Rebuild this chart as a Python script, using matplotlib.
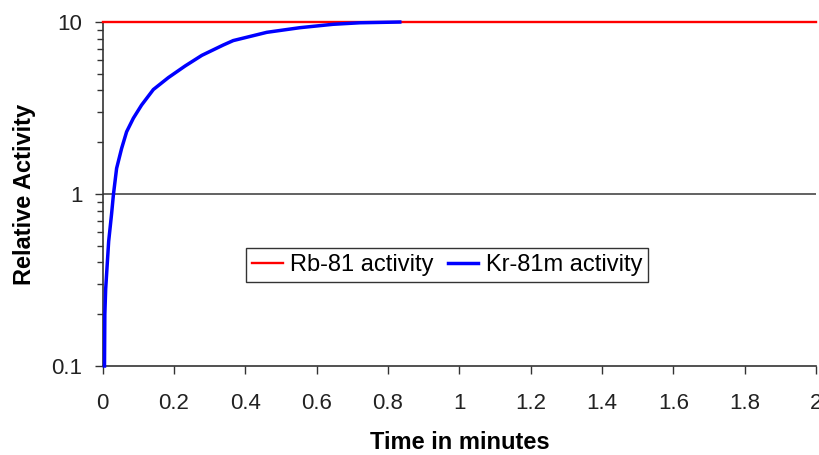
import matplotlib.pyplot as plt
from matplotlib.ticker import FixedLocator, NullFormatter

plt.rcParams['font.family'] = ['Liberation Sans', 'DejaVu Sans']

# Rb-81 parent activity (constant)
rb_time = [0.0, 2.0]
rb_activity = [10.0, 10.0]

# Kr-81m daughter activity
kr_time = [0.005, 0.006, 0.0083, 0.0167, 0.025, 0.030, 0.039, 0.053, 0.067,
           0.086, 0.109, 0.142, 0.184, 0.231, 0.278, 0.338, 0.366, 0.46,
           0.553, 0.646, 0.721, 0.833]
kr_activity = [0.10, 0.20, 0.28, 0.53, 0.77, 0.99, 1.41, 1.84, 2.30,
               2.76, 3.29, 4.05, 4.75, 5.55, 6.40, 7.35, 7.80, 8.71,
               9.27, 9.70, 9.90, 10.0]

x_ticks = [0, 0.2, 0.4, 0.6, 0.8, 1, 1.2, 1.4, 1.6, 1.8, 2]
x_labels = ['0', '0.2', '0.4', '0.6', '0.8', '1', '1.2', '1.4', '1.6', '1.8', '2']
y_ticks = [0.1, 1, 10]
y_labels = ['0.1', '1', '10']

fig = plt.figure(figsize=(8.19, 4.55), dpi=100)
ax = fig.add_axes([0.1254, 0.1956, 0.8709, 0.756])

ax.set_yscale('log')
ax.axhline(1, color='#555555', lw=1.3, zorder=1)
ax.plot(rb_time, rb_activity, color='#ff0000', lw=1.7, label='Rb-81 activity',
        clip_on=False, zorder=3)
ax.plot(kr_time, kr_activity, color='#0000ff', lw=2.5, label='Kr-81m activity',
        clip_on=False, zorder=4)

ax.set_xlim(0, 2)
ax.set_ylim(0.1, 10)
ax.set_xticks(x_ticks)
ax.set_xticklabels(x_labels)
ax.yaxis.set_major_locator(FixedLocator(y_ticks))
ax.set_yticklabels(y_labels)
minor = [m * d for d in (0.1, 1) for m in range(2, 10)]
ax.yaxis.set_minor_locator(FixedLocator(minor))
ax.yaxis.set_minor_formatter(NullFormatter())

ax.tick_params(axis='both', which='major', labelsize=16, length=5.5, width=1,
               color='#333333', labelcolor='#222222')
ax.tick_params(axis='x', which='major', pad=14)
ax.tick_params(axis='y', which='major', pad=9)
ax.tick_params(axis='y', which='minor', length=4, width=1, color='#333333')

for s in ('top', 'right'):
    ax.spines[s].set_visible(False)
for s in ('left', 'bottom'):
    ax.spines[s].set_color('#333333')
    ax.spines[s].set_linewidth(1.2)

ax.set_xlabel('Time in minutes', fontsize=17, fontweight='bold', labelpad=12)
ax.set_ylabel('Relative Activity', fontsize=17, fontweight='bold', labelpad=11)

leg = ax.legend(loc='center', bbox_to_anchor=(0.483, 0.294), ncol=2,
                fontsize=17, frameon=True, fancybox=False, handlelength=1.3,
                handletextpad=0.3, columnspacing=0.6, borderpad=0.25)
leg.get_frame().set_edgecolor('black')
leg.get_frame().set_linewidth(1)

plt.savefig('out.png', dpi=100)
